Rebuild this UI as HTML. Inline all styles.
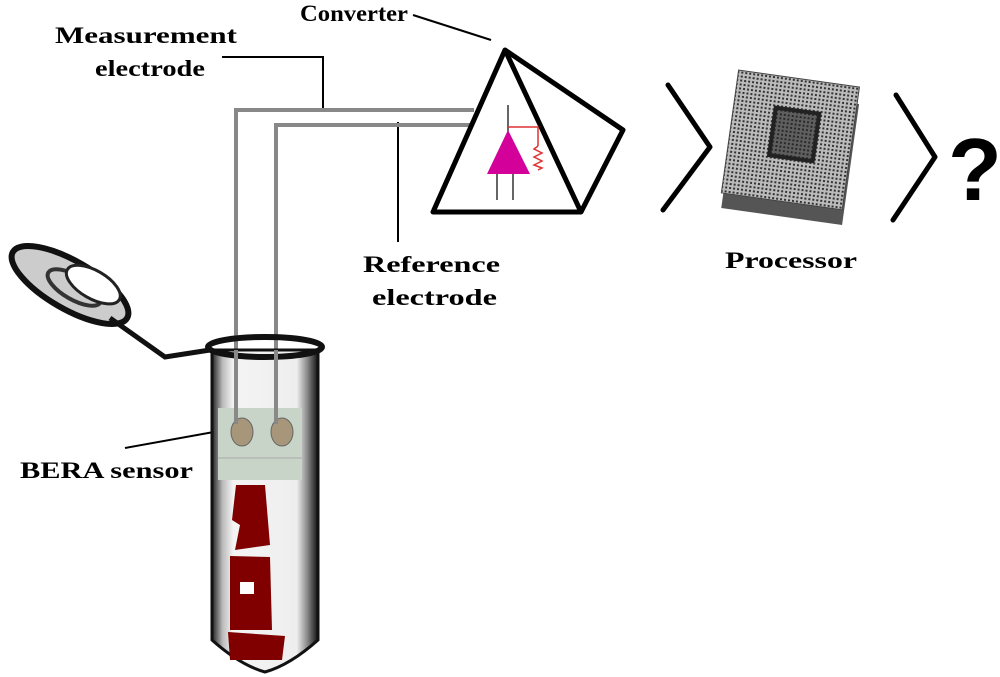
<!DOCTYPE html>
<html><head><meta charset="utf-8"><style>
html,body{margin:0;padding:0;background:#fff;}
svg{display:block;}
text{font-family:"Liberation Serif",serif;font-weight:bold;font-size:23px;fill:#000;}
</style></head><body>
<svg width="1000" height="677" viewBox="0 0 1000 677" xmlns="http://www.w3.org/2000/svg">
<defs>
<pattern id="grid" width="4" height="4" patternUnits="userSpaceOnUse">
<rect width="4" height="4" fill="#bbb"/><rect x="1" y="1" width="2" height="2" fill="#333"/>
</pattern>
<linearGradient id="tube" x1="0" x2="1"><stop offset="0" stop-color="#222"/><stop offset="0.1" stop-color="#bbb"/><stop offset="0.2" stop-color="#f4f4f4"/><stop offset="0.8" stop-color="#eee"/><stop offset="0.9" stop-color="#888"/><stop offset="1" stop-color="#111"/></linearGradient>
</defs>
<!-- labels -->
<text x="55" y="43" textLength="182" lengthAdjust="spacingAndGlyphs">Measurement</text>
<text x="95" y="76" textLength="110" lengthAdjust="spacingAndGlyphs">electrode</text>
<text x="300" y="21" textLength="108" lengthAdjust="spacingAndGlyphs">Converter</text>
<text x="363" y="272" textLength="137" lengthAdjust="spacingAndGlyphs">Reference</text>
<text x="372" y="305" textLength="125" lengthAdjust="spacingAndGlyphs">electrode</text>
<text x="725" y="268" textLength="132" lengthAdjust="spacingAndGlyphs">Processor</text>
<text x="20" y="478" textLength="173" lengthAdjust="spacingAndGlyphs">BERA sensor</text>
<text x="948" y="200" style="font-family:'Liberation Sans',sans-serif;font-size:88px;">?</text>
<!-- leaders -->
<polyline points="222,57 323,57 323,108" fill="none" stroke="#000" stroke-width="2"/>
<line x1="398" y1="122" x2="398" y2="242" stroke="#000" stroke-width="2"/>
<line x1="413" y1="15" x2="491" y2="40" stroke="#000" stroke-width="2"/>
<line x1="125" y1="448" x2="236" y2="428" stroke="#000" stroke-width="2"/>
<!-- wires -->
<polyline points="236,425 236,110 474,110" fill="none" stroke="#888" stroke-width="4"/>
<polyline points="276,425 276,125 472,125" fill="none" stroke="#888" stroke-width="4"/>
<!-- converter -->
<polygon points="505,50 433,212 581,212" fill="none" stroke="#000" stroke-width="5" stroke-linejoin="round"/>
<polyline points="505,50 623,130 581,212" fill="none" stroke="#000" stroke-width="5" stroke-linejoin="round"/>
<line x1="508" y1="105" x2="508" y2="132" stroke="#333" stroke-width="1.5"/>
<line x1="497" y1="172" x2="497" y2="200" stroke="#333" stroke-width="1.5"/>
<line x1="513" y1="172" x2="513" y2="200" stroke="#333" stroke-width="1.5"/>
<polygon points="508,130 487,174 530,174" fill="#d4009a"/>
<polyline points="508,127 538,127 538,146 M538,170 538,186 512,186" fill="none" stroke="#d33" stroke-width="1.5"/>
<polyline points="538,146 534,149 542,153 534,157 542,161 534,165 542,168 538,170" fill="none" stroke="#d33" stroke-width="1.5"/>
<!-- chevrons -->
<polyline points="668,85 710,147 663,210" fill="none" stroke="#000" stroke-width="5" stroke-linecap="round" stroke-linejoin="round"/>
<polyline points="896,95 935,157 893,220" fill="none" stroke="#000" stroke-width="5" stroke-linecap="round" stroke-linejoin="round"/>
<!-- processor -->
<g transform="translate(790,150) rotate(8)">
<rect x="-60" y="-55" width="122" height="122" fill="#555"/>
<rect x="-62" y="-72" width="122" height="124" fill="url(#grid)" stroke="#444"/>
<rect x="-22" y="-42" width="48" height="52" fill="#222"/>
<rect x="-18" y="-38" width="40" height="44" fill="url(#grid)" opacity="0.4"/>
</g>
<!-- cap -->
<g transform="translate(70,285) rotate(30)">
<ellipse cx="0" cy="0" rx="66" ry="24" fill="#ccc" stroke="#111" stroke-width="6"/>
<ellipse cx="5" cy="0" rx="30" ry="12" fill="none" stroke="#333" stroke-width="4"/>
<ellipse cx="20" cy="-12" rx="30" ry="14" fill="#fff" stroke="#222" stroke-width="3"/>
</g>
<polyline points="110,318 165,357 210,350" fill="none" stroke="#111" stroke-width="5"/>
<!-- tube -->
<path d="M212,350 L212,640 Q240,665 265,672 Q290,665 318,640 L318,350 Z" fill="url(#tube)" stroke="#111" stroke-width="3"/>
<ellipse cx="265" cy="347" rx="57" ry="10" fill="none" stroke="#111" stroke-width="6"/>
<rect x="218" y="408" width="84" height="72" fill="#c8d4c8"/>
<ellipse cx="242" cy="432" rx="11" ry="14" fill="#a8967a" stroke="#666"/>
<ellipse cx="282" cy="432" rx="11" ry="14" fill="#a8967a" stroke="#666"/>
<line x1="218" y1="458" x2="302" y2="458" stroke="#aaa"/>
<line x1="236" y1="350" x2="236" y2="424" stroke="#888" stroke-width="4"/>
<line x1="276" y1="350" x2="276" y2="424" stroke="#888" stroke-width="4"/>
<path d="M236,485 L265,485 L270,545 L235,550 L240,525 L232,520 Z" fill="#800000"/>
<path d="M230,556 L270,557 L272,630 L230,630 Z" fill="#800000"/>
<path d="M228,632 L285,636 L282,660 L230,660 Z" fill="#800000"/>
<rect x="240" y="582" width="14" height="12" fill="#fff"/>
</svg>
</body></html>
